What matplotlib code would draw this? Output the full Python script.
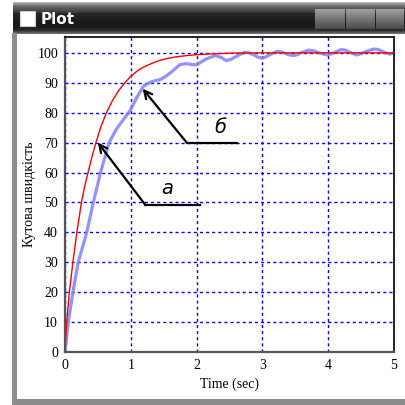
import numpy as np
import matplotlib
matplotlib.use("Agg")
import matplotlib.pyplot as plt
from matplotlib.patches import Rectangle

# red curve (a)
t_red = [0, 0.025, 0.066, 0.12, 0.18, 0.25, 0.3, 0.35, 0.41, 0.47, 0.55, 0.63, 0.72, 0.81, 0.91,
         1.0, 1.1, 1.2, 1.32, 1.44, 1.57, 1.7, 1.85, 2.0, 2.25, 2.5, 3.0, 5.0]
y_red = [0, 10, 20, 30, 40, 50, 55.5, 60, 65.3, 70, 75.6, 80, 84, 87.2, 90,
         92.2, 94, 95.3, 96.5, 97.5, 98.2, 98.7, 99.1, 99.4, 99.7, 99.9, 100, 100]

# blue curve (b)
t_blue = [0, 0.05, 0.12, 0.2, 0.26, 0.33, 0.43, 0.54, 0.67, 0.78, 0.88,
          0.99, 1.09, 1.19, 1.29, 1.37, 1.44, 1.52, 1.6, 1.68, 1.75, 1.85, 1.93, 2.0, 2.08, 2.15,
          2.28, 2.37, 2.45, 2.53, 2.6, 2.73, 2.8, 2.87, 2.93, 2.99, 3.05, 3.1, 3.22, 3.29, 3.35, 3.41, 3.47,
          3.53, 3.58, 3.7, 3.78, 3.85, 3.92, 3.98, 4.04, 4.1, 4.2, 4.26, 4.32, 4.38, 4.43,
          4.5, 4.56, 4.69, 4.76, 4.82, 4.88, 4.94, 5.0]
y_blue = [0, 10, 20, 30, 34.5, 40, 50, 60, 70, 74.5, 77.5,
          80.7, 85, 88.8, 90.1, 90.7, 91, 92, 93.3, 94.8, 96.1, 96.4, 96.1, 96, 97.1, 98,
          99.1, 98.5, 97.4, 97.9, 98.8, 100.2, 100, 99.3, 98.6, 98.2, 98.6, 99.3, 100.5, 100.3, 99.8, 99.3, 99.1,
          99.4, 100, 100.9, 100.7, 100.1, 99.6, 99.3, 99.6, 100.2, 101.1, 100.9, 100.3, 99.7, 99.3,
          99.7, 100.3, 101.3, 101.1, 100.5, 99.9, 99.6, 100]

xticks = [0, 1, 2, 3, 4, 5]
yticks = [0, 10, 20, 30, 40, 50, 60, 70, 80, 90, 100]

fig = plt.figure(figsize=(4.05, 4.05), dpi=100)
fig.patch.set_facecolor("white")

# window frame drawn in pixel coords
bg = fig.add_axes([0, 0, 1, 1])
bg.axis("off")
shades = np.array([0.72, 0.62, 0.52, 0.45, 0.40, 0.36, 0.33, 0.30, 0.27, 0.24,
                   0.16, 0.15, 0.14, 0.13, 0.13, 0.12, 0.12, 0.11, 0.11, 0.10,
                   0.10, 0.10, 0.10, 0.11, 0.12, 0.14, 0.18, 0.25, 0.35, 0.42])
grad = np.repeat(shades[:, None, None], 3, axis=2)
bg.imshow(grad, extent=(13, 405, 34, 2), aspect="auto", origin="upper", interpolation="bilinear")
bshades = np.linspace(0.62, 0.30, 20)
bgrad = np.repeat(bshades[:, None, None], 3, axis=2)
for x0, x1 in [(315, 345), (346, 375), (376, 404)]:
    bg.imshow(bgrad, extent=(x0, x1, 29, 9), aspect="auto", origin="upper", interpolation="bilinear")
bg.add_patch(Rectangle((20, 11), 15, 15, facecolor="white", edgecolor="#cccccc", lw=0.8))
bg.text(41, 19, "Plot", color="white", fontsize=11, fontweight="bold",
        family="DejaVu Sans", va="center", ha="left")
bg.add_patch(Rectangle((12, 33), 5, 372, facecolor="#8c8c8c", edgecolor="none"))
bg.add_patch(Rectangle((12, 399), 393, 6, facecolor="#8c8c8c", edgecolor="none"))
bg.set_xlim(0, 405)
bg.set_ylim(405, 0)

ax = fig.add_axes([65 / 405, 53 / 405, 329 / 405, 315 / 405])
ax.set_zorder(2)
ax.plot(t_blue, y_blue, color="#8080ff", lw=2.3, alpha=0.85,
        solid_joinstyle="round", solid_capstyle="round")
ax.plot(t_red, y_red, color="#ff0000", lw=1.0)

ax.set_xlim(0, 5)
ax.set_ylim(0, 105.3)
ax.set_xticks(xticks)
ax.set_yticks(yticks)
ax.grid(True, color="#0000ff", linestyle=(0, (2.2, 2.2)), lw=1.0)
ax.tick_params(length=0, pad=5, labelsize=10)
for lab in ax.get_xticklabels() + ax.get_yticklabels():
    lab.set_family("Liberation Serif")
for s in ax.spines.values():
    s.set_color("black")
    s.set_linewidth(1.2)
ax.spines["left"].set_color("#555555")
ax.spines["left"].set_linewidth(1.6)
ax.spines["bottom"].set_color("#555555")
ax.spines["bottom"].set_linewidth(1.6)

ax.set_xlabel("Time (sec)", family="Liberation Serif", fontsize=10, labelpad=4)
ax.set_ylabel("Кутова швидкість", family="Liberation Serif", fontsize=10, labelpad=1)

# pointer a
ax.plot([2.05, 1.22], [49.2, 49.2], color="black", lw=1.6)
ax.annotate("", xy=(0.5, 70), xytext=(1.22, 49.2),
            arrowprops=dict(arrowstyle="->", color="black", lw=1.6, mutation_scale=14, shrinkA=0, shrinkB=0))
ax.text(1.55, 51.5, "a", fontsize=14, style="italic", family="DejaVu Sans", ha="center", va="bottom")
# pointer b
ax.plot([2.62, 1.85], [70, 70], color="black", lw=1.6)
ax.annotate("", xy=(1.18, 88), xytext=(1.85, 70),
            arrowprops=dict(arrowstyle="->", color="black", lw=1.6, mutation_scale=14, shrinkA=0, shrinkB=0))
ax.text(2.36, 72, "б", fontsize=14, style="italic", family="DejaVu Sans", ha="center", va="bottom")

fig.savefig("out.png", dpi=100)
